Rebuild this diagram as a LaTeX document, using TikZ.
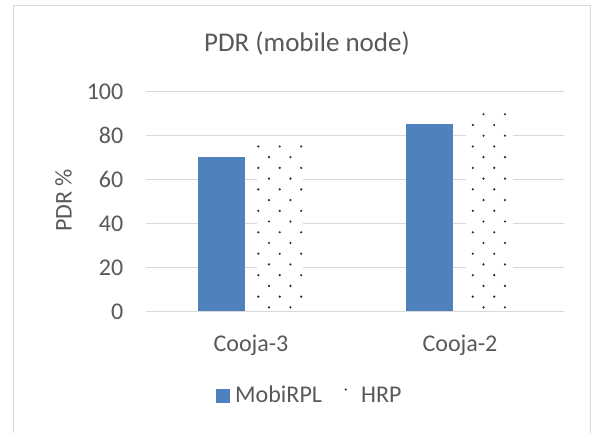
\documentclass[tikz,border=0pt]{standalone}
\usepackage{fontspec}
\setmainfont{Carlito}
\definecolor{txtgray}{HTML}{595959}
\definecolor{gridgray}{HTML}{D9D9D9}
\definecolor{mobiblue}{HTML}{4F81BD}
\definecolor{dotgray}{HTML}{262626}
\begin{document}
\begin{tikzpicture}[x=1bp,y=-1bp,
  gridline/.style={draw=gridgray,line width=1bp},
  ticklab/.style={text=txtgray,font=\fontsize{24bp}{28bp}\selectfont,inner sep=0pt},
  titlelab/.style={text=txtgray,font=\fontsize{27bp}{32bp}\selectfont,inner sep=0pt},
  mobibar/.style={fill=mobiblue,draw=none},
  hrpdot/.style={fill=dotgray,draw=none}]
\useasboundingbox (0,0) rectangle (597,432);
\fill[white] (0,0) rectangle (597,432);
% chart frame
\draw[draw=gridgray,line width=1bp] (13.5,440) -- (13.5,5.5) -- (590.5,5.5) -- (590.5,440);
% title
\node[titlelab,anchor=base] (title) at (307,51.5) {PDR (mobile node)};
% horizontal grid and value labels
\foreach \v/\nm in {0/a,20/b,40/c,60/d,80/e,100/f}{
  \draw[gridline] (146,311-2.2*\v) -- (564,311-2.2*\v);
  \node[ticklab,anchor=base east] (tick\nm) at (123.5,311-2.2*\v+8) {\v};
}
% axis title
\node[ticklab,rotate=90,anchor=base] (ylab) at (71.5,200.5) {PDR \%};
% MobiRPL bars
\fill[mobibar] (198,311) rectangle (245,311-2.2*70);
\fill[mobibar] (406,311) rectangle (453,311-2.2*85);
% HRP bars: white bar with a staggered dot lattice
\foreach \xl/\xr/\val in {257/303/76, 466/513/90}{
  \begin{scope}
    \clip (\xl,311) rectangle (\xr,311-2.2*\val-1.5);
    \fill[white] (\xl,311) rectangle (\xr,311-2.2*\val-1.5);
    \foreach \i in {0,...,12}{
      \foreach \j in {-1,...,9}{
        \fill[hrpdot] (258.3+21.45*\i,296.6-21.45*\j) circle (1.2);
        \fill[hrpdot] (269.0+21.45*\i,307.3-21.45*\j) circle (1.2);
      }
    }
  \end{scope}
}
% category labels
\node[ticklab,anchor=base] (cat1) at (251,351) {Cooja-3};
\node[ticklab,anchor=base] (cat2) at (460,351) {Cooja-2};
% legend
\fill[mobibar] (216,389) rectangle (230,403);
\node[ticklab,anchor=base west] (leg1) at (235,402.3) {MobiRPL};
\fill[hrpdot] (345.7,389.5) circle (1.1);
\node[ticklab,anchor=base west] (leg2) at (361,402.3) {HRP};
\end{tikzpicture}
\end{document}
